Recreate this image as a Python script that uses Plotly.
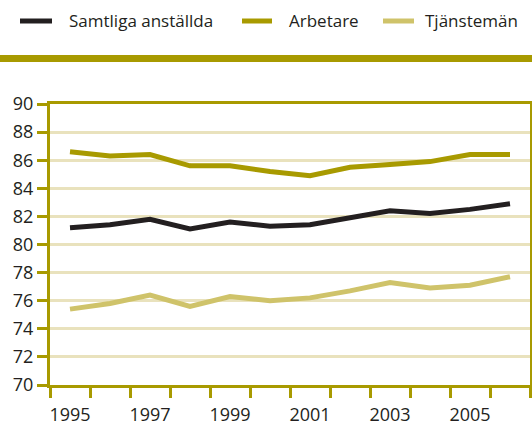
import plotly.graph_objects as go

years = list(range(1995, 2007))
samtliga = [81.2, 81.4, 81.8, 81.1, 81.6, 81.3, 81.4, 81.9, 82.4, 82.2, 82.5, 82.9]
arbetare = [86.6, 86.3, 86.4, 85.6, 85.6, 85.2, 84.9, 85.5, 85.7, 85.9, 86.4, 86.4]
tjanstemen = [75.4, 75.8, 76.4, 75.6, 76.3, 76.0, 76.2, 76.7, 77.3, 76.9, 77.1, 77.7]
series_names = ["Samtliga anställda", "Arbetare", "Tjänstemän"]
colors = ["#231f20", "#a89a00", "#cfc36a"]
x_labels = [1995, 1997, 1999, 2001, 2003, 2005]
y_ticks = list(range(70, 92, 2))

OLIVE = "#a89a00"
GRID = "#e9e2bd"
FONT = "Open Sans"
TXT = "#231f20"

fig = go.Figure()
for name, vals, col in zip(series_names, [samtliga, arbetare, tjanstemen], colors):
    fig.add_trace(go.Scatter(x=years, y=vals, name=name, mode="lines",
                             line=dict(color=col, width=5), showlegend=False))

W, H = 532, 425
ml, mr, mt, mb = 50, 2, 104, 40
pw = W - ml - mr
ph = H - mt - mb


def px_x(px):  # page pixel -> paper
    return (px - ml) / pw


def px_y(py):
    return (H - mb - py) / ph


fig.update_layout(
    width=W, height=H,
    margin=dict(l=ml, r=mr, t=mt, b=mb, autoexpand=False),
    paper_bgcolor="white", plot_bgcolor="white",
    font=dict(family=FONT, color=TXT, size=15),
    showlegend=False,
    xaxis=dict(range=[1994.5, 2006.5], tickvals=x_labels, ticktext=[str(v) for v in x_labels],
               ticks="", showgrid=False, zeroline=False, automargin=False,
               showline=True, linecolor=OLIVE, linewidth=3, mirror=True,
               tickfont=dict(size=18, family=FONT, color=TXT),
               ticklabelstandoff=11,
               minor=dict(tickvals=[y - 0.5 for y in years] + [2006.5], ticks="outside",
                          ticklen=10, tickwidth=3, tickcolor=OLIVE, showgrid=False)),
    yaxis=dict(range=[70, 90], tickvals=y_ticks, ticks="outside", ticklen=10, tickwidth=3,
               tickcolor=OLIVE, showgrid=True, gridcolor=GRID, gridwidth=3, automargin=False,
               zeroline=False, showline=True, linecolor=OLIVE, linewidth=3, mirror=True,
               tickfont=dict(size=18, family=FONT, color=TXT)),
)

# legend drawn manually
legend_pos = [(20, 52, 67), (242, 272, 287), (383, 414, 423)]
for (x0, x1, tx), name, col in zip(legend_pos, series_names, colors):
    fig.add_shape(type="line", xref="paper", yref="paper",
                  x0=px_x(x0), x1=px_x(x1), y0=px_y(21), y1=px_y(21),
                  line=dict(color=col, width=5))
    fig.add_annotation(xref="paper", yref="paper", x=px_x(tx), y=px_y(21),
                       xanchor="left", yanchor="middle", text=name, showarrow=False,
                       font=dict(size=17, family=FONT, color=TXT))

# decorative band below the legend
fig.add_shape(type="rect", xref="paper", yref="paper",
              x0=px_x(0), x1=px_x(W),
              y0=px_y(62), y1=px_y(55),
              fillcolor=OLIVE, line=dict(width=0), layer="above")

fig.write_html("out.html", config={"displayModeBar": False},
               post_script="document.body.style.margin='0';document.body.style.overflow='hidden';")
